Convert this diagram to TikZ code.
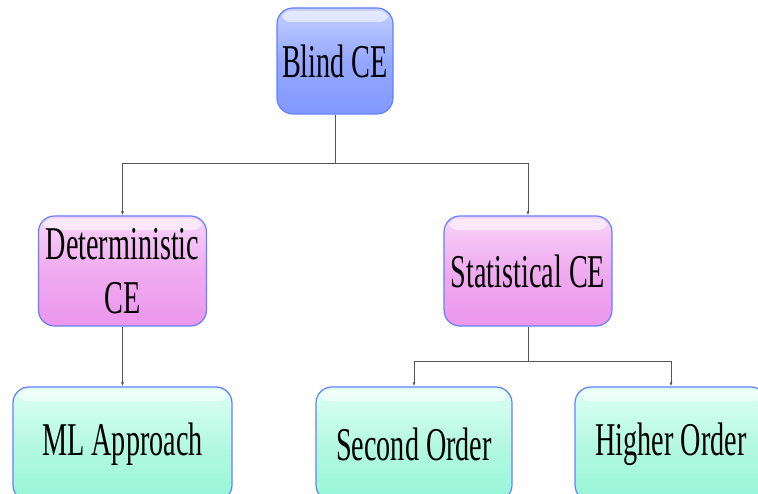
\documentclass[tikz,border=0pt]{standalone}
\usepackage{fontspec}
\setmainfont[FakeStretch=0.6]{Liberation Serif}
\usetikzlibrary{arrows.meta,positioning,calc}

\definecolor{blindfill}{RGB}{130,152,255}
\definecolor{blindtop}{RGB}{196,208,255}
\definecolor{pinkfill}{RGB}{236,150,236}
\definecolor{pinktop}{RGB}{248,212,248}
\definecolor{greenfill}{RGB}{150,246,214}
\definecolor{greentop}{RGB}{222,255,244}
\definecolor{edgeblue}{RGB}{100,128,255}
\definecolor{linegray}{RGB}{85,85,85}

\tikzset{
  box/.style={draw=edgeblue, line width=1.2pt, rounded corners=16pt,
    inner sep=2pt, align=center,
    font=\fontsize{47}{54}\selectfont,
    path picture={
      \fill[white,opacity=.55,rounded corners=8pt]
        ($(path picture bounding box.north west)+(5pt,-3pt)$) rectangle
        ($(path picture bounding box.north east)+(-5pt,-14pt)$);
    }},
  rootbox/.style={box, top color=blindtop, bottom color=blindfill, middle color=blindfill!85!white},
  midbox/.style={box, top color=pinktop, bottom color=pinkfill, middle color=pinkfill!80!white},
  leafbox/.style={box, top color=greentop, bottom color=greenfill, middle color=greenfill!70!white},
  conn/.style={draw=linegray, line width=0.9pt, -{Latex[length=4pt,width=3pt]}},
  stem/.style={draw=linegray, line width=0.9pt}
}

\begin{document}
\begin{tikzpicture}[x=1pt,y=-1pt]
\clip (0,0) rectangle (758,494);

% tree of boxes
\node[rootbox, minimum width=116pt, minimum height=106pt] (blind) at (335,61) {Blind CE};
\node[midbox, minimum width=168pt, minimum height=110pt] (det) at (122.5,271) {Deterministic\\CE};
\node[midbox, minimum width=168pt, minimum height=110pt] (stat) at (528,271) {Statistical CE};
\node[leafbox, minimum width=219pt, minimum height=114pt] (ml) at (122.5,444) {ML Approach};
\node[leafbox, minimum width=196pt, minimum height=114pt] (second) at (414,444) {Second Order};
\node[leafbox, minimum width=192pt, minimum height=114pt] (higher) at (671,444) {Higher Order};

% connectors
\coordinate (j1) at (335,163);
\coordinate (j2) at (528,361);
\draw[stem] (blind.south) -- (j1);
\draw[conn] (j1) -| (det.north);
\draw[conn] (j1) -| (stat.north);
\draw[conn] (det.south) -- (ml.north);
\draw[stem] (stat.south) -- (j2);
\draw[conn] (j2) -| (second.north);
\draw[conn] (j2) -| (higher.north);
\end{tikzpicture}
\end{document}
